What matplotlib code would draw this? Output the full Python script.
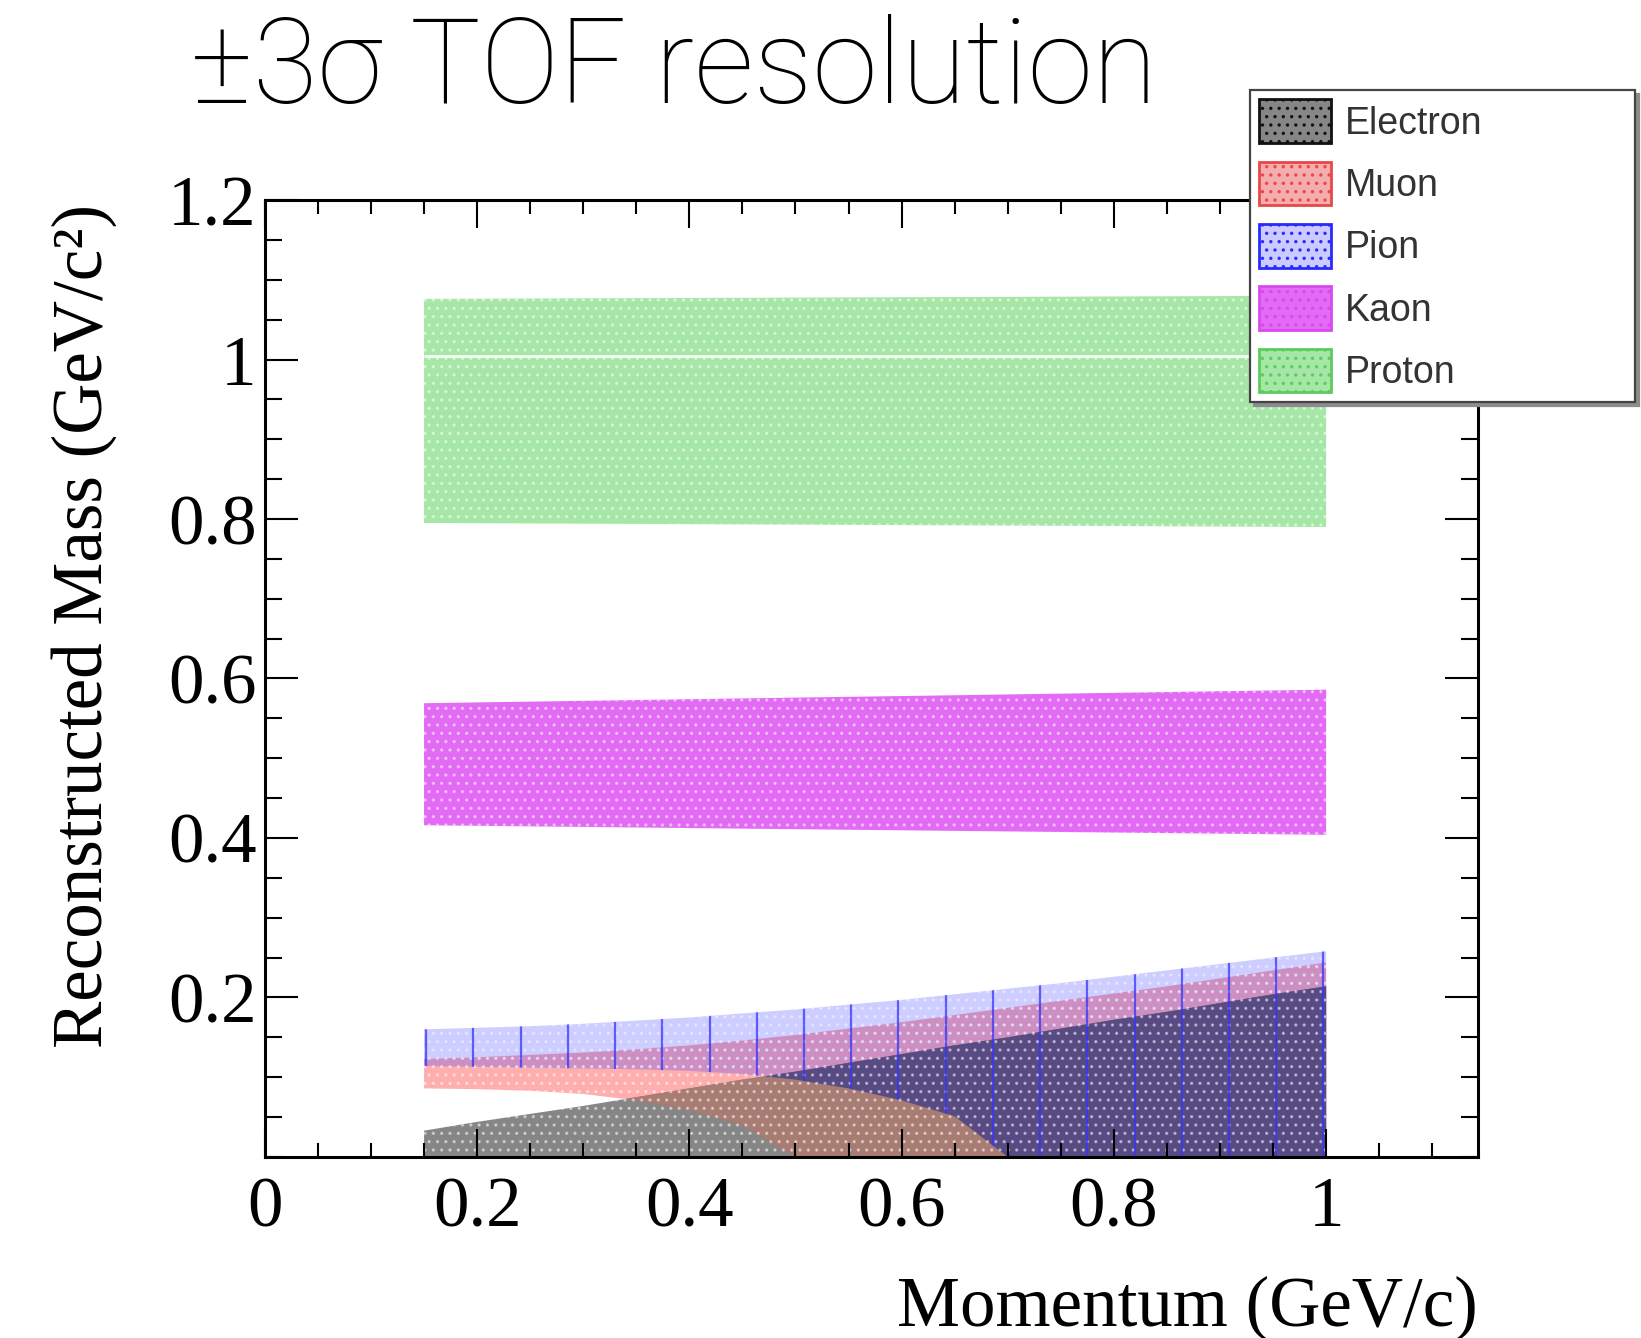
import numpy as np
import matplotlib
matplotlib.use("Agg")
import matplotlib.pyplot as plt
from matplotlib.ticker import MultipleLocator, FixedLocator, FixedFormatter
from matplotlib.patches import Patch

# ---- data: +/-3 sigma mass bands (GeV/c^2) versus momentum (GeV/c) ----
momentum = [0.15, 0.20, 0.25, 0.30, 0.35, 0.40, 0.45, 0.50, 0.55,
            0.60, 0.65, 0.70, 0.75, 0.80, 0.85, 0.90, 0.95, 1.00]

electron_low = [0.0, 0.0, 0.0, 0.0, 0.0, 0.0, 0.0, 0.0, 0.0,
                0.0, 0.0, 0.0, 0.0, 0.0, 0.0, 0.0, 0.0, 0.0]
electron_high = [0.033, 0.044, 0.054, 0.064, 0.075, 0.086, 0.097, 0.107, 0.118,
                 0.129, 0.140, 0.150, 0.161, 0.172, 0.182, 0.193, 0.204, 0.214]

muon_low = [0.086, 0.085, 0.083, 0.079, 0.071, 0.059, 0.040, 0.0, 0.0,
            0.0, 0.0, 0.0, 0.0, 0.0, 0.0, 0.0, 0.0, 0.0]
muon_high = [0.123, 0.125, 0.128, 0.131, 0.135, 0.140, 0.146, 0.153, 0.161,
             0.169, 0.178, 0.187, 0.196, 0.205, 0.214, 0.224, 0.234, 0.244]

pion_low = [0.114, 0.113, 0.112, 0.111, 0.110, 0.108, 0.104, 0.097, 0.086,
            0.071, 0.051, 0.0, 0.0, 0.0, 0.0, 0.0, 0.0, 0.0]
pion_high = [0.160, 0.162, 0.164, 0.167, 0.171, 0.175, 0.180, 0.185, 0.191,
             0.197, 0.204, 0.211, 0.218, 0.226, 0.234, 0.242, 0.250, 0.258]

heavy_momentum = [0.15, 1.00]
kaon_low = [0.416, 0.404]
kaon_high = [0.569, 0.586]
proton_low = [0.795, 0.790]
proton_high = [1.076, 1.080]
proton_seam = 1.005

species = ["Electron", "Muon", "Pion", "Kaon", "Proton"]

x_ticks = [0, 0.2, 0.4, 0.6, 0.8, 1.0]
x_tick_labels = ["0", "0.2", "0.4", "0.6", "0.8", "1"]
y_ticks = [0.2, 0.4, 0.6, 0.8, 1.0, 1.2]
y_tick_labels = ["0.2", "0.4", "0.6", "0.8", "1", "1.2"]

# ---- styling ----
SERIF = ["Liberation Serif", "DejaVu Serif"]
SANS = ["Liberation Sans", "DejaVu Sans"]
fill_colors = {
    "Electron": "#868686",
    "Muon": "#f4acac",
    "Pion": "#cbcbff",
    "Kaon": "#e26af4",
    "Proton": "#a6e6a6",
}
edge_colors = {
    "Electron": "#111111",
    "Muon": "#e84848",
    "Pion": "#2a2aff",
    "Kaon": "#d84af0",
    "Proton": "#5ccc5c",
}
overlap_e_mu = "#a87c72"
overlap_all = "#584a82"
dot_color = (1, 1, 1, 0.45)

plt.rcParams["hatch.linewidth"] = 1.2

fig = plt.figure(figsize=(16.41, 13.38), dpi=100)
ax = fig.add_axes([0.1614, 0.1353, 0.7392, 0.7152])

mom = np.array(momentum)


def band(x, lo, hi, color, z=1.0):
    ax.fill_between(x, lo, hi, facecolor=color, edgecolor="none", lw=0,
                    zorder=z, interpolate=True,
                    where=np.asarray(hi) > np.asarray(lo))
    ax.fill_between(x, lo, hi, facecolor="none", edgecolor=dot_color, lw=0,
                    hatch="..", zorder=z + 0.01, interpolate=True,
                    where=np.asarray(hi) > np.asarray(lo))


# light particle bands
band(mom, electron_low, electron_high, fill_colors["Electron"], 1.0)
ax.fill_between(mom, muon_low, muon_high, facecolor="#ff4040", alpha=0.42,
                lw=0, zorder=1.1)
ax.fill_between(mom, muon_low, muon_high, facecolor="none",
                edgecolor=dot_color, lw=0, hatch="..", zorder=1.11)
ax.fill_between(mom, pion_low, pion_high, facecolor="#3030ff",
                alpha=0.24, lw=0, zorder=1.2)
ax.fill_between(mom, pion_low, pion_high, facecolor="none",
                edgecolor=(1, 1, 1, 0.35), lw=0, hatch="..", zorder=1.21)

# overlapping regions of the light bands
e_lo, e_hi = np.array(electron_low), np.array(electron_high)
m_lo, m_hi = np.array(muon_low), np.array(muon_high)
p_lo, p_hi = np.array(pion_low), np.array(pion_high)
em_lo, em_hi = np.maximum(e_lo, m_lo), np.minimum(e_hi, m_hi)
band(mom, em_lo, em_hi, overlap_e_mu, 1.3)
all_lo, all_hi = np.maximum(em_lo, p_lo), np.minimum(em_hi, p_hi)
band(mom, all_lo, all_hi, overlap_all, 1.4)

# vertical stroke texture of the pion fill pattern
stroke_x = np.arange(mom[0] + 0.002, mom[-1], 0.0445)
strokes = ax.vlines(stroke_x, 0, 1.2, colors="#3434ff", lw=1.6, alpha=0.75,
                    zorder=1.45)
pion_outline = ax.fill_between(mom, pion_low, pion_high, facecolor="none",
                               lw=0, zorder=0.5)
strokes.set_clip_path(pion_outline.get_paths()[0], ax.transData)

# heavy particle bands
band(heavy_momentum, kaon_low, kaon_high, fill_colors["Kaon"], 1.0)
band(heavy_momentum, proton_low, proton_high, fill_colors["Proton"], 1.0)
ax.hlines(proton_seam, heavy_momentum[0], heavy_momentum[-1], colors="white",
          lw=2.0, alpha=0.9, zorder=1.5)

# ---- axes ----
ax.set_xlim(0, 1.143)
ax.set_ylim(0, 1.2)
ax.xaxis.set_major_locator(FixedLocator(x_ticks))
ax.xaxis.set_major_formatter(FixedFormatter(x_tick_labels))
ax.xaxis.set_minor_locator(MultipleLocator(0.05))
ax.yaxis.set_major_locator(FixedLocator(y_ticks))
ax.yaxis.set_major_formatter(FixedFormatter(y_tick_labels))
ax.yaxis.set_minor_locator(MultipleLocator(0.05))

ax.tick_params(axis="both", which="both", direction="in", top=True,
               right=True, width=1.5, color="black")
ax.tick_params(axis="x", which="major", length=20, pad=14)
ax.tick_params(axis="x", which="minor", length=10)
ax.tick_params(axis="y", which="major", length=24, pad=6)
ax.tick_params(axis="y", which="minor", length=12)
for lab in ax.get_xticklabels() + ax.get_yticklabels():
    lab.set_fontfamily(SERIF)
    lab.set_fontsize(51)
for sp in ax.spines.values():
    sp.set_linewidth(2.2)
    sp.set_color("black")

ax.set_xlabel("Momentum (GeV/c)", fontsize=51, family=SERIF, loc="right")
ax.xaxis.label.set_va("center")
ax.xaxis.set_label_coords(1.0, -0.158)
ax.set_ylabel("Reconstructed Mass (GeV/c²)", fontsize=51, family=SERIF,
              loc="top")
ax.yaxis.label.set_va("center")
ax.yaxis.set_label_coords(-0.1493, 0.996)

# ---- title ----
fig.text(0.1165, 0.923, "±3σ TOF resolution", fontsize=85,
         family=["Roboto", "Lato", "DejaVu Sans"], fontweight="light",
         ha="left", va="baseline")

# ---- legend ----
handles = [Patch(facecolor=fill_colors[s], edgecolor=edge_colors[s],
                 linewidth=2.0, hatch="..") for s in species]
leg = ax.legend(handles, species, loc="upper left",
                bbox_to_anchor=(0.7618, 0.7010, 0.2346, 0.2317),
                bbox_transform=fig.transFigure, mode="expand",
                borderaxespad=0, prop={"family": SANS, "size": 27},
                handlelength=1.92, handleheight=1.41, labelspacing=0.50,
                handletextpad=0.36, borderpad=0.25, fancybox=False,
                framealpha=1, edgecolor="#444444",
                shadow={"ox": 3, "oy": -3, "color": "0.55", "alpha": 1})
leg.get_frame().set_linewidth(1.6)
leg.set_zorder(5)
for t in leg.get_texts():
    t.set_color("#333333")

fig.savefig("out.png", dpi=100)
